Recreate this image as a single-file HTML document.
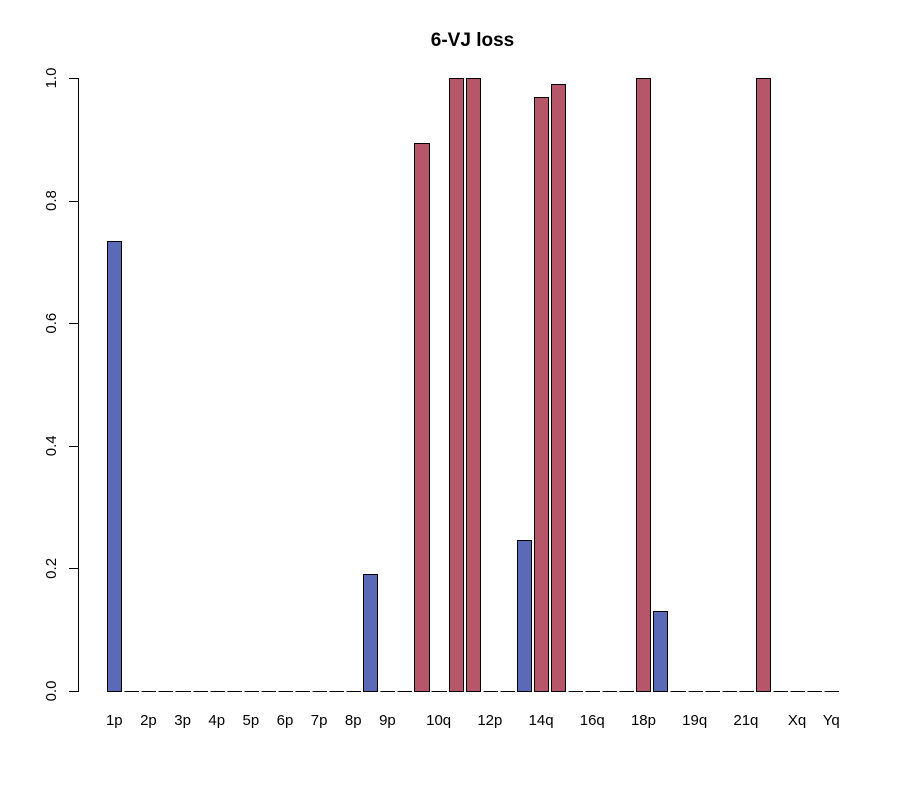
<!DOCTYPE html>
<html>
<head>
<meta charset="utf-8">
<title>6-VJ loss</title>
<style>
html,body{margin:0;padding:0;background:#fff;}
svg{display:block;}
text{font-family:"Liberation Sans",Arial,sans-serif;fill:#000;}
</style>
</head>
<body>
<svg id="chart" xmlns="http://www.w3.org/2000/svg" width="908" height="789" viewBox="0 0 908 789">
<rect x="0" y="0" width="908" height="789" fill="#ffffff"/>
<text x="472.5" y="46" text-anchor="middle" font-size="19px" font-weight="bold">6-VJ loss</text>
</svg>
<script>
const categories = ["1p","1q","2p","2q","3p","3q","4p","4q","5p","5q","6p","6q","7p","7q","8p","8q","9p","9q","10p","10q","11p","11q","12p","12q","13q","14q","15q","16p","16q","17p","17q","18p","18q","19p","19q","20p","20q","21q","22q","Xp","Xq","Yp","Yq"];
const values = [0.734,0,0,0,0,0,0,0,0,0,0,0,0,0,0,0.191,0,0,0.894,0,1,1,0,0,0.246,0.969,0.99,0,0,0,0,1,0.13,0,0,0,0,0,1,0,0,0,0];
const barGroups = ["blue","","","","","","","","","","","","","","","blue","","","red","","red","red","","","blue","red","red","","","","","red","blue","","","","","","red","","","",""];
const shownLabels = ["1p","2p","3p","4p","5p","6p","7p","8p","9p","10q","12p","14q","16q","18p","19q","21q","Xq","Yq"];
const yTicks = [0,0.2,0.4,0.6,0.8,1];
const yTickLabels = ["0.0","0.2","0.4","0.6","0.8","1.0"];

const groupColors = {blue:"#5a6ab6", red:"#b55768", "":"none"};
const svg = document.getElementById("chart");
const NS = "http://www.w3.org/2000/svg";
const plot = {x0:107.65, step:17.07, barW:14.1, yZero:691, yOne:78, axisX:78};

function xLeft(i){ return plot.x0 + i*plot.step; }
function yPos(v){ return plot.yZero + (plot.yOne - plot.yZero)*v; }
function crispX(p){ return Math.floor(p) + 0.5; }
function crispY(p){ return Math.round(p) + 0.5; }

categories.forEach(function(name, i){
  const v = values[i];
  const left = crispX(xLeft(i));
  const right = crispX(xLeft(i) + plot.barW);
  const top = crispY(yPos(v));
  const bottom = crispY(plot.yZero);
  if (bottom - top < 0.5) {
    const z = document.createElementNS(NS, "line");
    z.setAttribute("x1", left);
    z.setAttribute("x2", right + 0.5);
    z.setAttribute("y1", bottom);
    z.setAttribute("y2", bottom);
    z.setAttribute("stroke", "#000");
    z.setAttribute("stroke-width", "1");
    z.setAttribute("shape-rendering", "crispEdges");
    
    
    svg.appendChild(z);
    return;
  }
  const r = document.createElementNS(NS, "rect");
  r.setAttribute("x", left);
  r.setAttribute("y", top);
  r.setAttribute("width", right - left);
  r.setAttribute("height", bottom - top);
  r.setAttribute("fill", groupColors[barGroups[i]]);
  r.setAttribute("stroke", "#000");
  r.setAttribute("stroke-width", "1");
  r.setAttribute("shape-rendering", "crispEdges");
  
  
  svg.appendChild(r);
});

shownLabels.forEach(function(label){
  const i = categories.indexOf(label);
  const t = document.createElementNS(NS, "text");
  t.setAttribute("x", xLeft(i) + plot.barW/2 - 0.4);
  t.setAttribute("y", 725);
  t.setAttribute("text-anchor", "middle");
  t.setAttribute("font-size", "15px");
  t.textContent = label;
  
  
  svg.appendChild(t);
});

const axisLine = document.createElementNS(NS, "line");
axisLine.setAttribute("x1", plot.axisX + 0.5);
axisLine.setAttribute("x2", plot.axisX + 0.5);
axisLine.setAttribute("y1", crispY(yPos(1)));
axisLine.setAttribute("y2", crispY(yPos(0)) + 0.5);
axisLine.setAttribute("stroke", "#000");
axisLine.setAttribute("shape-rendering", "crispEdges");


svg.appendChild(axisLine);

yTicks.forEach(function(v, k){
  const y = crispY(yPos(v));
  const tick = document.createElementNS(NS, "line");
  tick.setAttribute("x1", plot.axisX - 9);
  tick.setAttribute("x2", plot.axisX + 1);
  tick.setAttribute("y1", y);
  tick.setAttribute("y2", y);
  tick.setAttribute("stroke", "#000");
  tick.setAttribute("shape-rendering", "crispEdges");
  
  
  svg.appendChild(tick);
  const t = document.createElementNS(NS, "text");
  t.setAttribute("transform", "translate(56," + yPos(v) + ") rotate(-90)");
  t.setAttribute("text-anchor", "middle");
  t.setAttribute("font-size", "15px");
  t.textContent = yTickLabels[k];
  
  
  svg.appendChild(t);
});
</script>
</body>
</html>
